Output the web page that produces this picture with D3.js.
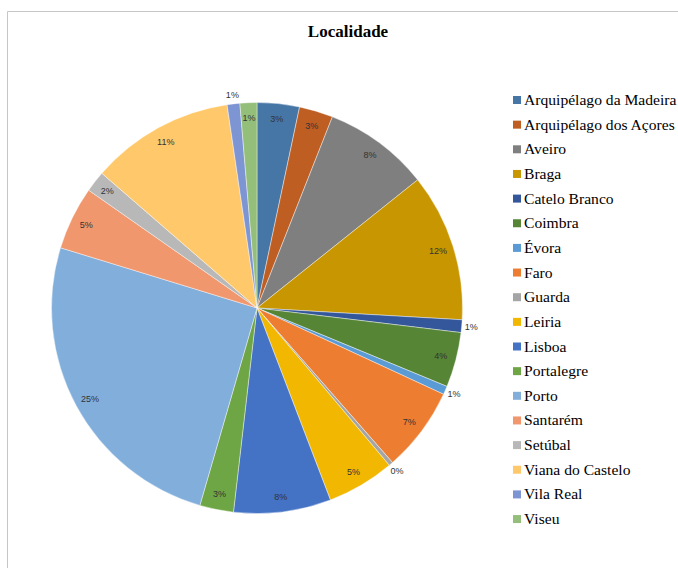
<!DOCTYPE html>
<html lang="pt">
<head>
<meta charset="utf-8">
<title>Localidade</title>
<script src="https://d3js.org/d3.v7.min.js"></script>
<style>
  body { margin: 0; background: #fff; }
</style>
</head>
<body>
<div id="chart"></div>
<script>
const width = 678
const height = 568

// data (counts, shown as percentages)
const categories = ['Arquipélago da Madeira', 'Arquipélago dos Açores', 'Aveiro', 'Braga', 'Catelo Branco',
  'Coimbra', 'Évora', 'Faro', 'Guarda', 'Leiria', 'Lisboa', 'Portalegre', 'Porto', 'Santarém',
  'Setúbal', 'Viana do Castelo', 'Vila Real', 'Viseu']
const counts = [10, 8, 25, 35, 3, 13, 2, 20, 1, 16, 23, 8, 76, 15, 5, 34, 3, 4]
const colors = ['#4676A6', '#BF5E22', '#7F7F7F', '#C79600', '#33579A', '#568536',
  '#5B9BD5', '#ED7D31', '#A5A5A5', '#F2B700', '#4472C4', '#6FA645',
  '#82AEDC', '#F0976E', '#B8B8B8', '#FFC96B', '#7E95D3', '#93BF7B']

const center = { x: 257, y: 308 }
const radius = 205.5

const svg = d3.select('#chart').append('svg')
  .attr('width', width)
  .attr('height', height)

// chart area frame
svg.append('path')
  .attr('d', `M7.5,${height} V11.5 H${width}`)
  .attr('fill', 'none')
  .attr('stroke', '#c6c6c6')
  .attr('stroke-width', 1)

svg.append('text')
  .attr('x', 348)
  .attr('y', 37)
  .attr('text-anchor', 'middle')
  .style('font-family', '"Liberation Serif", "DejaVu Serif", serif')
  .style('font-weight', 'bold')
  .style('font-size', '17px')
  .attr('fill', '#000')
  .text('Localidade')

const data = categories.map((c, i) => ({ name: c, value: counts[i], color: colors[i] }))
const total = d3.sum(counts)

const pie = d3.pie().value(d => d.value).sort(null)
const arcs = pie(data)
const arc = d3.arc().innerRadius(0).outerRadius(radius)

const g = svg.append('g')
  .attr('transform', `translate(${center.x},${center.y})`)

g.selectAll('path')
  .data(arcs)
  .join('path')
  .attr('d', arc)
  .attr('fill', d => d.data.color)
  .attr('stroke', '#ffffff')
  .attr('stroke-opacity', 0.6)
  .attr('stroke-width', 0.7)

// labels: inside near the rim, small slices outside
const inside = d3.arc().innerRadius(190).outerRadius(190)
const outside = d3.arc().innerRadius(215).outerRadius(215)

g.selectAll('text.lbl')
  .data(arcs)
  .join('text')
  .attr('class', 'lbl')
  .attr('transform', d => {
    const small = (d.endAngle - d.startAngle) < 0.075
    const p = (small ? outside : inside).centroid(d)
    return `translate(${p[0]},${p[1]})`
  })
  .attr('text-anchor', 'middle')
  .attr('dy', '0.35em')
  .style('font-family', '"Liberation Sans", Arial, sans-serif')
  .style('font-size', '9px')
  .attr('fill', '#333')
  .text(d => Math.round(d.data.value / total * 100) + '%')

// legend
const legend = svg.append('g')
  .attr('transform', 'translate(513,100)')

const rows = legend.selectAll('g')
  .data(data)
  .join('g')
  .attr('transform', (d, i) => `translate(0,${i * 24.65})`)

rows.append('rect')
  .attr('x', 0)
  .attr('y', -4)
  .attr('width', 8)
  .attr('height', 8)
  .attr('fill', d => d.color)

rows.append('text')
  .attr('x', 11)
  .attr('y', 5)
  .style('font-family', '"Liberation Serif", "DejaVu Serif", serif')
  .style('font-size', '15.6px')
  .attr('fill', '#000')
  .text(d => d.name)
</script>
</body>
</html>
